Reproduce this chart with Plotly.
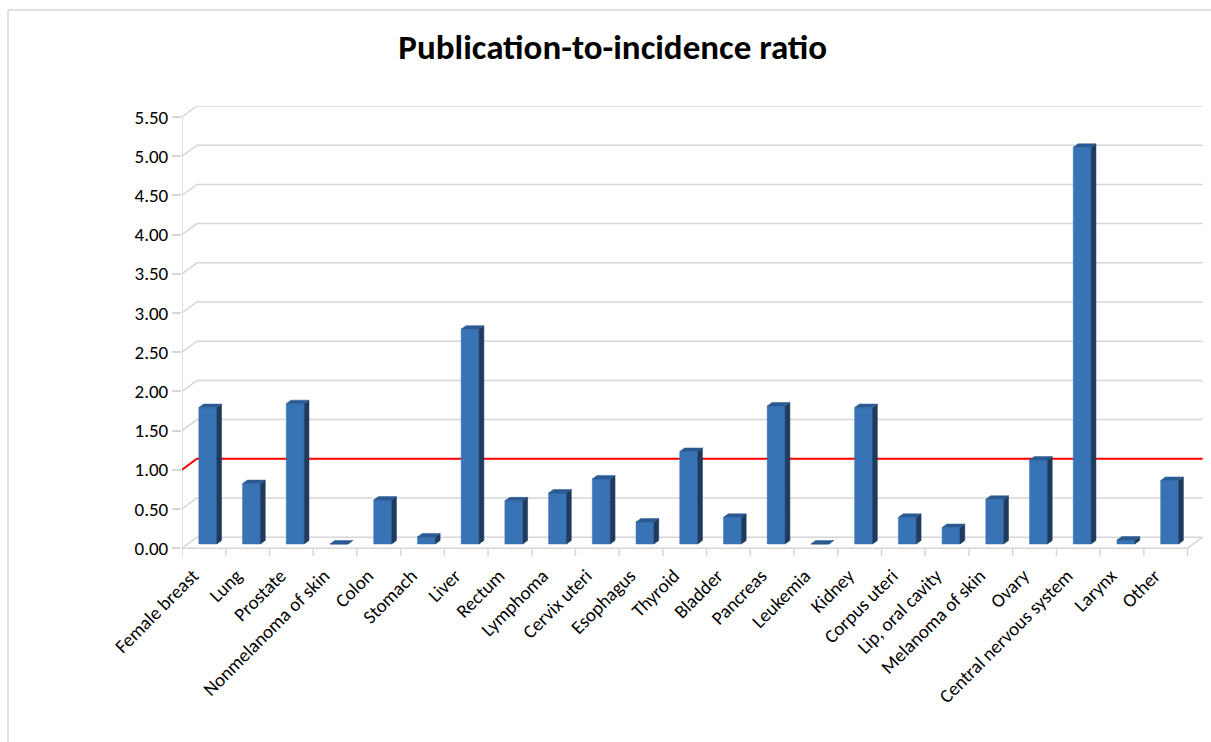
import plotly.graph_objects as go

# Publication-to-incidence ratio by cancer site
categories = [
    "Female breast", "Lung", "Prostate", "Nonmelanoma of skin", "Colon",
    "Stomach", "Liver", "Rectum", "Lymphoma", "Cervix uteri", "Esophagus",
    "Thyroid", "Bladder", "Pancreas", "Leukemia", "Kidney", "Corpus uteri",
    "Lip, oral cavity", "Melanoma of skin", "Ovary", "Central nervous system",
    "Larynx", "Other",
]
ratios = [
    1.74, 0.77, 1.79, 0.00, 0.56, 0.09, 2.74, 0.55, 0.65, 0.83, 0.28, 1.18,
    0.34, 1.76, 0.00, 1.74, 0.34, 0.21, 0.57, 1.07, 5.06, 0.05, 0.81,
]
reference_level = 1.0
y_ticks = [0.0, 0.5, 1.0, 1.5, 2.0, 2.5, 3.0, 3.5, 4.0, 4.5, 5.0, 5.5]

# pseudo-3D geometry (in data units)
DX, DY = 0.343, 0.140          # full depth offset of the back wall
D0, D1 = 0.38, 0.70            # bar depth span as a fraction of full depth
BAR_W = 0.41
BAR_SHIFT = 0.09
TICK_DROP = 0.10               # length of category tick marks below the floor
LABEL_SHIFT = -0.25            # rotated labels end just left of the column

FRONT = "#3873b6"
SIDE = "#1e3a5f"
TOP = "#2b5a92"
GRID = "#d6d6d6"
FONT = "Carlito, Lato, sans-serif"

W, H = 1211, 742
ML, MR, MT, MB = 182, 8, 106, 186

n = len(categories)
x_lo, x_hi = -0.5, n - 0.5

fig = go.Figure()

# back wall gridlines with their diagonal run to the front axis
gx, gy = [], []
for v in y_ticks:
    gx += [x_lo, x_lo + DX, x_hi + DX, None]
    gy += [v, v + DY, v + DY, None]
# front value axis and floor edge
gx += [x_lo, x_lo, None, x_lo, x_hi, x_hi + DX, None]
gy += [y_ticks[-1], 0, None, 0, 0, DY, None]
# category boundary ticks
for i in range(n + 1):
    gx += [i - 0.5, i - 0.5, None]
    gy += [0, -TICK_DROP, None]
fig.add_trace(go.Scatter(x=gx, y=gy, mode="lines",
                         line=dict(color=GRID, width=1.5),
                         hoverinfo="skip", showlegend=False))

# reference line at ratio = 1
fig.add_trace(go.Scatter(
    x=[x_lo, x_lo + DX, x_hi + DX],
    y=[reference_level, reference_level + DY, reference_level + DY],
    mode="lines", line=dict(color="#ff0000", width=2),
    hoverinfo="skip", showlegend=False))

# column faces: front, side and top, built from each ratio
base = D0 * DY
depth_x = (D1 - D0) * DX
depth_y = (D1 - D0) * DY
fx, fy, sx, sy, tx, ty = [], [], [], [], [], []
for i, v in enumerate(ratios):
    xc = i + BAR_SHIFT
    xl, xr = xc - BAR_W / 2, xc + BAR_W / 2
    top = base + v
    fx += [xl, xr, xr, xl, xl, None]
    fy += [base, base, top, top, base, None]
    sx += [xr, xr + depth_x, xr + depth_x, xr, xr, None]
    sy += [base, base + depth_y, top + depth_y, top, base, None]
    tx += [xl, xl + depth_x, xr + depth_x, xr, xl, None]
    ty += [top, top + depth_y, top + depth_y, top, top, None]

for px, py, col in ((fx, fy, FRONT), (sx, sy, SIDE), (tx, ty, TOP)):
    fig.add_trace(go.Scatter(x=px, y=py, mode="lines", fill="toself",
                             fillcolor=col, line=dict(width=0.5, color=col),
                             hoverinfo="skip", showlegend=False))

fig.update_layout(
    width=W, height=H,
    margin=dict(l=ML, r=MR, t=MT, b=MB),
    paper_bgcolor="white", plot_bgcolor="white",
    title=dict(text="<b>Publication-to-incidence ratio</b>",
               font=dict(family=FONT, size=35, color="black"),
               x=0.506, xanchor="center", y=1 - 47 / H, yanchor="middle"),
    xaxis=dict(range=[x_lo, x_hi + DX + 0.01], tickmode="array",
               tickvals=[i + LABEL_SHIFT for i in range(n)],
               ticktext=categories,
               tickangle=-45, showgrid=False, zeroline=False,
               showline=False, ticks="", ticklabelstandoff=4,
               tickfont=dict(family=FONT, size=19, color="black")),
    yaxis=dict(range=[-TICK_DROP, 5.64], tickmode="array", tickvals=y_ticks,
               ticktext=[f"{v:.2f}" for v in y_ticks],
               ticks="outside", ticklen=9, tickcolor=GRID, tickwidth=1.5,
               showgrid=False, zeroline=False, showline=False,
               tickfont=dict(family=FONT, size=19, color="black")),
)

# outer frame: top and left edges of the chart area
pw, ph = W - ML - MR, H - MT - MB
frame_x = (8 - ML) / pw
frame_y = (H - 10 - MB) / ph
fig.add_shape(type="line", xref="paper", yref="paper",
              x0=frame_x, x1=(W - ML) / pw, y0=frame_y, y1=frame_y,
              line=dict(color=GRID, width=1.5))
fig.add_shape(type="line", xref="paper", yref="paper",
              x0=frame_x, x1=frame_x, y0=frame_y, y1=-MB / ph,
              line=dict(color=GRID, width=1.5))

fig.write_html("out.html")
